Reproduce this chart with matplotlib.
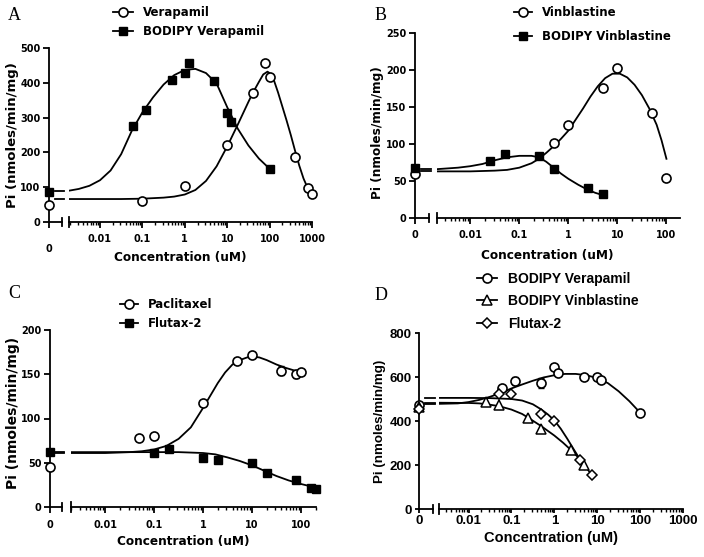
import numpy as np
import matplotlib
matplotlib.use("Agg")
import matplotlib.pyplot as plt
import matplotlib.ticker as mticker
from matplotlib.lines import Line2D

W, H = 704, 557

# Fitted curves as (log10 concentration, Pi) pairs.

# ── Panel A: Verapamil / BODIPY Verapamil ─────────────────────────────────────
a_ver_y0 = 50
a_ver_x = [0.1, 1, 10, 40, 80, 100, 400, 800, 1000]
a_ver_y = [59, 104, 221, 371, 458, 416, 188, 97, 80]
a_bver_y0 = 85
a_bver_x = [0.06, 0.125, 0.5, 1, 1.25, 5, 10, 12.5, 100]
a_bver_y = [277, 323, 409, 428, 456, 405, 312, 287, 153]
a_ver_clog = [-2.73, -2, -1.5, -1, -0.5, -0.25, 0, 0.25, 0.5, 0.75, 1, 1.25, 1.5, 1.6,
              1.75, 1.85, 1.95, 2.0, 2.1, 2.2, 2.3, 2.4, 2.5, 2.6, 2.7, 2.8, 2.9, 3.0]
a_ver_cy = [66, 66, 66, 67, 70, 73, 79, 92, 118, 160, 217, 280, 345, 370,
            403, 424, 432, 428, 408, 372, 332, 292, 250, 205, 162, 125, 97, 75]
a_bver_clog = [-2.73, -2.5, -2.25, -2, -1.75, -1.5, -1.25, -1, -0.75, -0.5, -0.25, 0, 0.25,
               0.5, 0.75, 1, 1.25, 1.5, 1.75, 2]
a_bver_cy = [90, 95, 104, 120, 148, 195, 262, 315, 358, 395, 422, 437, 440,
             428, 398, 330, 268, 220, 182, 153]

# ── Panel B: Vinblastine / BODIPY Vinblastine ─────────────────────────────────
b_vin_y0 = 60
b_vin_x = [0.5, 1, 5, 10, 50, 100]
b_vin_y = [102, 126, 176, 203, 142, 54]
b_bvin_y0 = 68
b_bvin_x = [0.025, 0.05, 0.25, 0.5, 2.5, 5]
b_bvin_y = [77, 86, 84, 66, 41, 32]
b_vin_clog = [-2.68, -2, -1.5, -1.25, -1, -0.75, -0.6, -0.45, -0.3, -0.15, 0, 0.15, 0.3,
              0.45, 0.6, 0.75, 0.9, 1.05, 1.2, 1.35, 1.5, 1.65, 1.8, 1.9, 2.0]
b_vin_cy = [63, 63, 64, 65, 68, 74, 80, 88, 97, 107, 118, 133, 148,
            164, 178, 189, 195, 195, 190, 180, 166, 148, 126, 105, 80]
b_bvin_clog = [-2.68, -2.25, -2, -1.75, -1.5, -1.25, -1, -0.75, -0.6, -0.45, -0.3, -0.15,
               0, 0.2, 0.4, 0.55, 0.7]
b_bvin_cy = [66, 68, 70, 73, 78, 82, 84, 84, 82, 76, 68, 60, 53, 45, 38, 34, 31]

# ── Panel C: Paclitaxel / Flutax-2 ────────────────────────────────────────────
c_pac_y0 = 45
c_pac_x = [0.05, 0.1, 1, 5, 10, 40, 80, 100]
c_pac_y = [78, 80, 118, 165, 172, 154, 150, 153]
c_pac_err = [0, 0, 0, 0, 0, 5, 4, 0]
c_flu_y0 = 62
c_flu_x = [0.1, 0.2, 1, 2, 10, 20, 80, 160, 200]
c_flu_y = [61, 66, 55, 53, 50, 38, 31, 21, 20]
c_flu_err = [0, 0, 0, 0, 0, 3, 3, 0, 0]
c_pac_clog = [-2.7, -2, -1.5, -1.25, -1, -0.75, -0.5, -0.25, 0, 0.15, 0.3, 0.45, 0.6,
              0.75, 0.9, 1.0, 1.15, 1.3, 1.5, 1.7, 2.0]
c_pac_cy = [61, 61, 62, 63, 65, 69, 77, 90, 112, 126, 140, 152, 161,
            166, 169, 170, 169, 166, 161, 157, 152]
c_flu_clog = [-2.7, -1, -0.5, 0, 0.25, 0.5, 0.75, 1.0, 1.25, 1.5, 1.75, 2.0, 2.3]
c_flu_cy = [62, 62, 62, 61, 59.5, 56, 52, 47, 41, 35, 30, 26, 22]

# ── Panel D: BODIPY Verapamil / BODIPY Vinblastine / Flutax-2 ────────────────
d_bv_y0 = 472
d_bv_x = [0.06, 0.12, 0.5, 1, 1.2, 5, 10, 12.5, 100]
d_bv_y = [549, 580, 574, 645, 618, 600, 600, 588, 435]
d_bv_err = [0, 18, 22, 0, 0, 0, 0, 0, 0]
d_bvn_y0 = 462
d_bvn_x = [0.025, 0.05, 0.25, 0.5, 2.5, 5]
d_bvn_y = [485, 471, 415, 365, 267, 199]
d_fl_y0 = 455
d_fl_x = [0.05, 0.1, 0.5, 1, 4, 7.5]
d_fl_y = [521, 521, 430, 399, 221, 153]
d_bv_clog = [-2.69, -2.25, -2, -1.75, -1.5, -1.25, -1, -0.75, -0.5, -0.25, 0, 0.25, 0.5,
             0.75, 1.0, 1.25, 1.5, 1.75, 2.0]
d_bv_cy = [478, 480, 486, 496, 510, 527, 548, 566, 583, 598, 608, 614, 614,
           608, 595, 572, 535, 490, 438]
d_bvn_clog = [-2.69, -2, -1.75, -1.6, -1.3, -1, -0.75, -0.6, -0.3, 0, 0.2, 0.4, 0.55, 0.7]
d_bvn_cy = [483, 482, 480, 477, 468, 452, 432, 414, 376, 334, 302, 266, 236, 203]
d_fl_clog = [-2.69, -2, -1.5, -1, -0.75, -0.5, -0.3, -0.15, 0, 0.15, 0.3, 0.45, 0.6,
             0.75, 0.88]
d_fl_cy = [505, 505, 504, 500, 493, 476, 452, 430, 403, 365, 320, 272, 225, 187, 153]

OPEN_O = dict(marker="o", mfc="white", mec="black", ms=6.5, mew=1.2)
FILL_S = dict(marker="s", mfc="black", mec="black", ms=5.5, mew=1.0)
OPEN_T = dict(marker="^", mfc="white", mec="black", ms=6.5, mew=1.1)
OPEN_D = dict(marker="D", mfc="white", mec="black", ms=4.8, mew=1.1)

fig = plt.figure(figsize=(W / 100, H / 100), dpi=100)


def make_panel(spine, zero_right, log_left, log_right, y_top, y_bot,
               xlim, ylim, yticks, family, tick_fs, zero_pad=0, xpad=5, tick_len=4):
    h = (y_bot - y_top) / H
    ax0 = fig.add_axes([spine / W, 1 - y_bot / H, (zero_right - spine) / W, h])
    ax1 = fig.add_axes([log_left / W, 1 - y_bot / H, (log_right - log_left) / W, h])
    ax0.set_xlim(0, 1)
    ax0.set_ylim(ylim)
    ax1.set_xscale("log")
    ax1.set_xlim(xlim)
    ax1.set_ylim(ylim)
    for s in ["top", "right"]:
        ax0.spines[s].set_visible(False)
    for s in ["top", "right", "left"]:
        ax1.spines[s].set_visible(False)
    for ax in (ax0, ax1):
        for s in ax.spines.values():
            s.set_linewidth(1.3)
        ax.patch.set_alpha(0)
    ax1.set_yticks([])
    ax0.set_xticks([0])
    ax0.set_xticklabels(["0"])
    ax0.set_yticks(yticks)
    ax1.xaxis.set_major_locator(mticker.LogLocator(base=10, numticks=20))
    ax1.xaxis.set_minor_locator(mticker.LogLocator(base=10, subs=np.arange(2, 10), numticks=20))
    ax1.xaxis.set_minor_formatter(mticker.NullFormatter())
    ax1.xaxis.set_major_formatter(mticker.FuncFormatter(lambda v, _: f"{v:g}"))
    ax0.tick_params(axis="x", length=tick_len, width=1.3, pad=xpad + zero_pad)
    ax0.tick_params(axis="y", length=tick_len, width=1.3, pad=2)
    ax1.tick_params(axis="x", which="major", length=tick_len, width=1.3, pad=xpad)
    ax1.tick_params(axis="x", which="minor", length=2.2, width=1.0)
    for ax in (ax0, ax1):
        for lab in ax.get_xticklabels() + ax.get_yticklabels():
            lab.set_family(family)
            lab.set_fontweight("bold")
            lab.set_fontsize(tick_fs)
    # axis break bars
    d0 = 4.0 / (y_bot - y_top)
    ax0.plot([1, 1], [-d0, d0], color="black", lw=1.3,
             transform=ax0.get_xaxis_transform(), clip_on=False)
    ax1.plot([0, 0], [-d0 * 1.2, d0 * 1.2], color="black", lw=1.3,
             transform=ax1.transAxes, clip_on=False)
    return ax0, ax1


def add_series(ax0, ax1, y0, x, y, clog, cy, style, yerr=None):
    cx = 10.0 ** np.asarray(clog)
    ax1.plot(cx, cy, color="black", lw=1.3, zorder=2)
    ax0.plot([0.45, 1.15], [cy[0], cy[0]], color="black", lw=1.3, clip_on=False, zorder=2)
    if yerr is not None:
        ax1.errorbar(x, y, yerr=yerr, fmt="none", ecolor="black", elinewidth=1.0,
                     capsize=2.5, capthick=1.0, zorder=3)
    ax1.plot(x, y, ls="none", zorder=4, clip_on=False, **style)
    ax0.plot([0], [y0], ls="none", zorder=4, clip_on=False, **style)


def handle(style):
    return Line2D([], [], color="black", lw=1.3, **style)


def add_legend(ax, handles, labels, x, y_top, family, fs, spacing, hlen, tpad):
    return ax.legend(handles, labels, loc="upper left", bbox_to_anchor=(x / W, 1 - y_top / H),
                     bbox_transform=fig.transFigure, frameon=False, borderpad=0,
                     borderaxespad=0, labelspacing=spacing, handlelength=hlen,
                     handletextpad=tpad, prop=dict(family=family, weight="bold", size=fs))


ABC = "DejaVu Sans"
ARIAL = "Liberation Sans"
SERIF = "Liberation Serif"

# Panel A
a0, a1 = make_panel(49, 62, 69, 312, 48, 222, (0.00186, 1000), (0, 500),
                    [0, 100, 200, 300, 400, 500], ABC, 7, zero_pad=7)
add_series(a0, a1, a_ver_y0, a_ver_x, a_ver_y, a_ver_clog, a_ver_cy, OPEN_O)
add_series(a0, a1, a_bver_y0, a_bver_x, a_bver_y, a_bver_clog, a_bver_cy, FILL_S)
add_legend(a1, [handle(OPEN_O), handle(FILL_S)], ["Verapamil", "BODIPY Verapamil"],
           113, 6, ABC, 8.5, 0.55, 1.7, 0.85)
fig.text(180.5 / W, 1 - 257 / H, "Concentration (uM)", ha="center", va="center",
         family=ABC, weight="bold", size=8.7)
fig.text(13 / W, 1 - 135 / H, "Pi (nmoles/min/mg)", ha="center", va="center",
         rotation=90, family=ABC, weight="bold", size=9.5)
fig.text(8 / W, 1 - 15 / H, "A", ha="left", va="center", family=SERIF, size=13)

# Panel B
b0, b1 = make_panel(415, 429, 437, 680, 33, 218, (0.0021, 189), (0, 250),
                    [0, 50, 100, 150, 200, 250], ABC, 7)
add_series(b0, b1, b_vin_y0, b_vin_x, b_vin_y, b_vin_clog, b_vin_cy, OPEN_O)
add_series(b0, b1, b_bvin_y0, b_bvin_x, b_bvin_y, b_bvin_clog, b_bvin_cy, FILL_S)
add_legend(b1, [handle(OPEN_O), handle(FILL_S)], ["Vinblastine", "BODIPY Vinblastine"],
           514, 6, ABC, 8.5, 0.95, 1.55, 0.85)
fig.text(547.5 / W, 1 - 255 / H, "Concentration (uM)", ha="center", va="center",
         family=ABC, weight="bold", size=8.7)
fig.text(377 / W, 1 - 133 / H, "Pi (nmoles/min/mg)", ha="center", va="center",
         rotation=90, family=ABC, weight="bold", size=8.7)
fig.text(375 / W, 1 - 15 / H, "B", ha="left", va="center", family=SERIF, size=13)

# Panel C
c0, c1 = make_panel(50, 62, 71, 316, 330, 507, (0.002, 203), (0, 200),
                    [0, 50, 100, 150, 200], ABC, 7)
add_series(c0, c1, c_pac_y0, c_pac_x, c_pac_y, c_pac_clog, c_pac_cy, OPEN_O, yerr=c_pac_err)
add_series(c0, c1, c_flu_y0, c_flu_x, c_flu_y, c_flu_clog, c_flu_cy, FILL_S, yerr=c_flu_err)
add_legend(c1, [handle(OPEN_O), handle(FILL_S)], ["Paclitaxel", "Flutax-2"],
           120, 298, ABC, 8.5, 0.5, 1.55, 0.85)
fig.text(183 / W, 1 - 542 / H, "Concentration (uM)", ha="center", va="center",
         family=ABC, weight="bold", size=8.7)
fig.text(13 / W, 1 - 413 / H, "Pi (nmoles/min/mg)", ha="center", va="center",
         rotation=90, family=ABC, weight="bold", size=10)
fig.text(8 / W, 1 - 294 / H, "C", ha="left", va="center", family=SERIF, size=13)

# Panel D
d0, d1 = make_panel(419, 433, 439, 683, 333, 509, (0.00205, 1000), (0, 800),
                    [0, 200, 400, 600, 800], ARIAL, 9.5, xpad=1.5, tick_len=3)
add_series(d0, d1, d_bv_y0, d_bv_x, d_bv_y, d_bv_clog, d_bv_cy, OPEN_O, yerr=d_bv_err)
add_series(d0, d1, d_bvn_y0, d_bvn_x, d_bvn_y, d_bvn_clog, d_bvn_cy, OPEN_T)
add_series(d0, d1, d_fl_y0, d_fl_x, d_fl_y, d_fl_clog, d_fl_cy, OPEN_D)
add_legend(d1, [handle(OPEN_O), handle(OPEN_T), handle(OPEN_D)],
           ["BODIPY Verapamil", "BODIPY Vinblastine", "Flutax-2"],
           477, 272, ARIAL, 10, 0.6, 1.45, 0.8)
fig.text(551 / W, 1 - 538 / H, "Concentration (uM)", ha="center", va="center",
         family=ARIAL, weight="bold", size=10.5)
fig.text(380 / W, 1 - 421 / H, "Pi (nmoles/min/mg)", ha="center", va="center",
         rotation=90, family=ARIAL, weight="bold", size=9.6)
fig.text(375 / W, 1 - 295 / H, "D", ha="left", va="center", family=SERIF, size=13)

fig.savefig("out.png", dpi=100)
